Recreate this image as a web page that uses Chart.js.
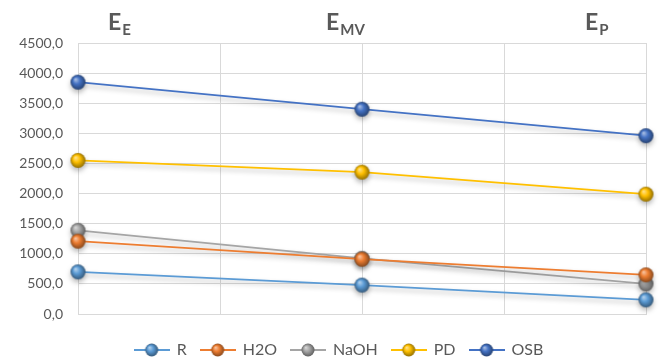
<!DOCTYPE html>
<html>
<head>
<meta charset="utf-8">
<script src="https://cdn.jsdelivr.net/npm/chart.js@4/dist/chart.umd.min.js"></script>
<style>
  html, body { margin: 0; padding: 0; background: #fff; }
  #wrap { width: 661px; height: 363px; }
</style>
</head>
<body>
<div id="wrap"><canvas id="lineChart" width="661" height="363"></canvas></div>
<script>
// categories (main letter + subscript)
var catMain = ["E", "E", "E"];
var catSub = ["E", "MV", "P"];

var seriesNames = ["R", "H2O", "NaOH", "PD", "OSB"];
var valR = [700, 480, 235];
var valH2O = [1210, 910, 650];
var valNaOH = [1390, 925, 500];
var valPD = [2550, 2355, 1990];
var valOSB = [3850, 3400, 2960];
var seriesColors = ["#5B9BD5", "#ED7D31", "#A5A5A5", "#FFC000", "#4472C4"];

var yTicks = [0, 500, 1000, 1500, 2000, 2500, 3000, 3500, 4000, 4500];

function shade(hex, amt) {
    var n = parseInt(hex.slice(1), 16);
    var r = (n >> 16) & 255, g = (n >> 8) & 255, b = n & 255;
    function f(c) {
        return amt > 0 ? Math.round(c + (255 - c) * amt) : Math.round(c * (1 + amt));
    }
    return "rgb(" + f(r) + "," + f(g) + "," + f(b) + ")";
}

function drawSphere(ctx, cx, cy, r, color) {
    var g = ctx.createRadialGradient(cx - r * 0.35, cy - r * 0.4, 0, cx, cy, r * 1.05);
    g.addColorStop(0, shade(color, 0.6));
    g.addColorStop(0.45, color);
    g.addColorStop(1, shade(color, -0.45));
    ctx.beginPath();
    ctx.arc(cx, cy, r, 0, Math.PI * 2);
    ctx.fillStyle = g;
    ctx.fill();
}

function sphereCanvas(color, r) {
    var c = document.createElement("canvas");
    c.width = c.height = r * 2 + 2;
    drawSphere(c.getContext("2d"), r + 1, r + 1, r, color);
    return c;
}

function legendCanvas(color) {
    var c = document.createElement("canvas");
    c.width = 36;
    c.height = 16;
    var ctx = c.getContext("2d");
    ctx.strokeStyle = color;
    ctx.lineWidth = 2;
    ctx.beginPath();
    ctx.moveTo(0, 8);
    ctx.lineTo(36, 8);
    ctx.stroke();
    drawSphere(ctx, 18, 8, 6.5, color);
    return c;
}

function toPoints(arr) {
    return arr.map(function (v, i) { return { x: i, y: v }; });
}

var allValues = [valR, valH2O, valNaOH, valPD, valOSB];

var datasets = seriesNames.map(function (name, i) {
    return {
        label: name,
        data: toPoints(allValues[i]),
        borderColor: seriesColors[i],
        backgroundColor: seriesColors[i],
        borderWidth: 1.75,
        pointStyle: sphereCanvas(seriesColors[i], 7.5),
        legendStyle: legendCanvas(seriesColors[i]),
        tension: 0,
        clip: false
    };
});

var shadowPlugin = {
    id: "shadow",
    beforeDatasetDraw: function (chart) {
        var ctx = chart.ctx;
        ctx.save();
        ctx.shadowColor = "rgba(0,0,0,0.28)";
        ctx.shadowBlur = 5;
        ctx.shadowOffsetY = 3;
    },
    afterDatasetDraw: function (chart) {
        chart.ctx.restore();
    }
};

// nudge the legend a bit to the right, like the original
var legendShift = {
    id: "legendShift",
    afterLayout: function (chart) {
        chart.legend.left += 16;
        chart.legend.right += 16;
    }
};

// top category labels with subscripts
var topLabelsPlugin = {
    id: "topLabels",
    afterDraw: function (chart) {
        var ctx = chart.ctx;
        var xs = chart.scales.x;
        var offs = [30, -36, -61];
        ctx.save();
        ctx.fillStyle = "#595959";
        ctx.textBaseline = "alphabetic";
        ctx.textAlign = "left";
        for (var i = 0; i < catMain.length; i++) {
            var x = xs.getPixelForValue(i) + offs[i];
            ctx.font = "bold 23px Lato";
            ctx.fillText(catMain[i], x, 30);
            var w = ctx.measureText(catMain[i]).width;
            ctx.font = "bold 15px Lato";
            ctx.fillText(catSub[i], x + w + 1, 35);
        }
        ctx.restore();
    }
};

var ctx = document.getElementById("lineChart").getContext("2d");
var myLineChart = new Chart(ctx, {
    type: "line",
    data: { datasets: datasets },
    plugins: [shadowPlugin, legendShift, topLabelsPlugin],
    options: {
        responsive: false,
        animation: false,
        layout: { padding: { top: 43, right: 15, left: 0, bottom: -5 } },
        scales: {
            x: {
                type: "linear",
                min: 0,
                max: 2,
                ticks: { display: false, stepSize: 0.5 },
                grid: { color: "#d9d9d9", drawTicks: false },
                border: { color: "#d9d9d9" },
                afterFit: function (scale) { scale.height = 14; }
            },
            y: {
                min: 0,
                max: 4500,
                afterBuildTicks: function (scale) {
                    scale.ticks = yTicks.map(function (v) { return { value: v }; });
                },
                ticks: {
                    color: "#595959",
                    font: { family: "Lato", size: 14 },
                    padding: 15,
                    callback: function (v) { return v.toFixed(1).replace(".", ","); }
                },
                grid: { color: "#d9d9d9", drawTicks: false },
                border: { color: "#d9d9d9" },
                afterFit: function (scale) { scale.width = 78; }
            }
        },
        plugins: {
            legend: {
                position: "bottom",
                labels: {
                    usePointStyle: true,
                    pointStyleWidth: 34,
                    color: "#595959",
                    font: { family: "Lato", size: 16 },
                    padding: 14,
                    generateLabels: function (chart) {
                        return chart.data.datasets.map(function (ds, i) {
                            return {
                                text: ds.label,
                                pointStyle: ds.legendStyle,
                                fillStyle: ds.backgroundColor,
                                strokeStyle: ds.borderColor,
                                lineWidth: 0,
                                fontColor: "#595959",
                                hidden: false,
                                datasetIndex: i
                            };
                        });
                    }
                }
            },
            tooltip: { enabled: false }
        }
    }
});
</script>
</body>
</html>
